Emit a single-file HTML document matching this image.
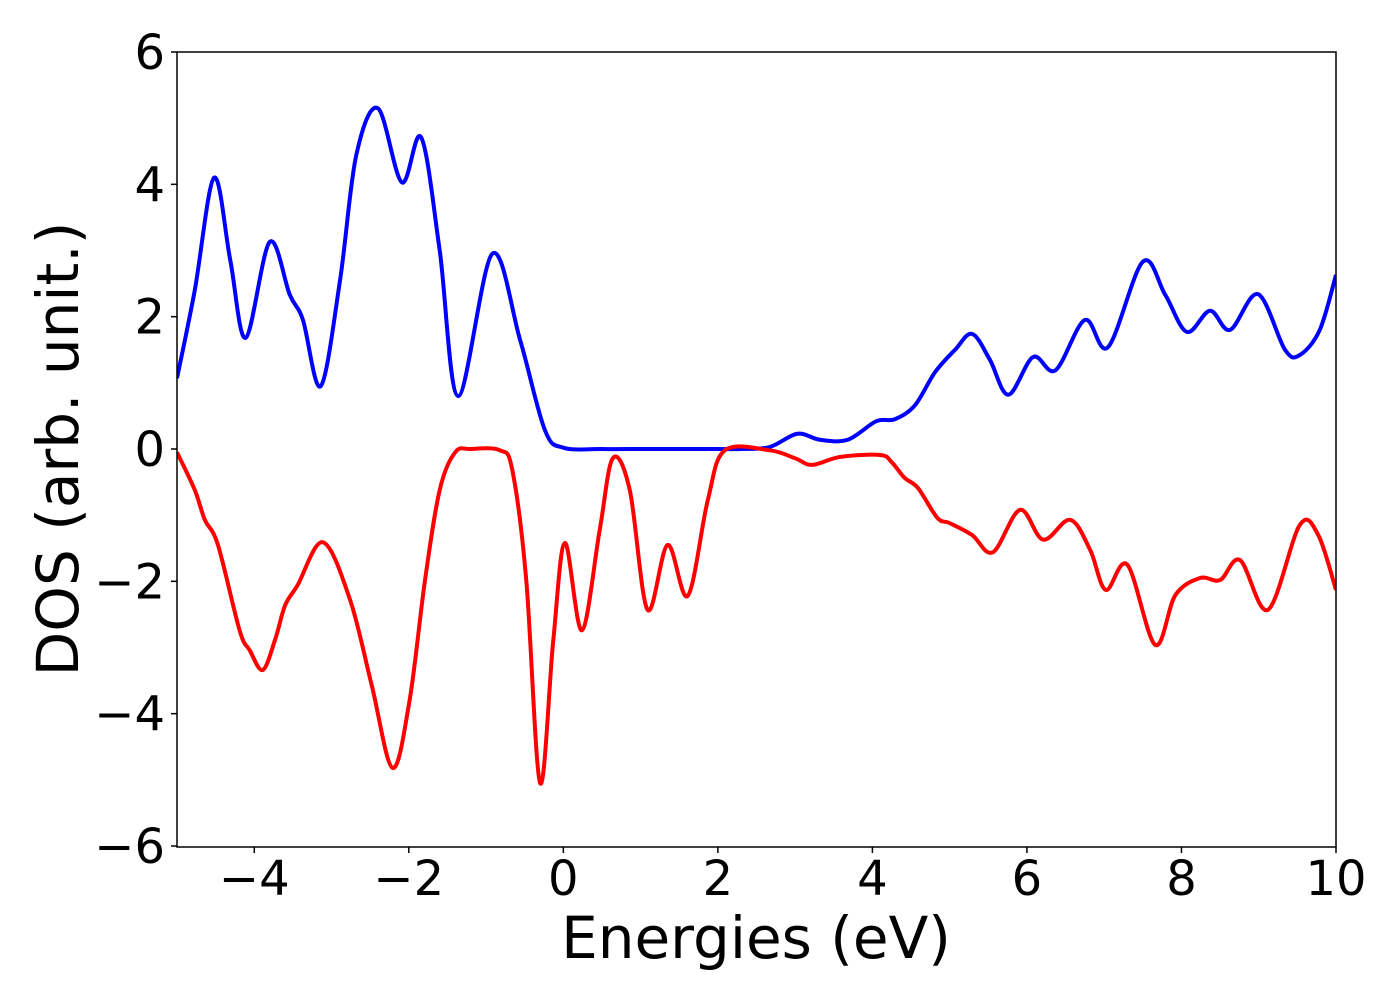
<!DOCTYPE html>
<html><head><meta charset="utf-8"><style>
body{margin:0;background:#fff}
svg{display:block}
text{font-family:"DejaVu Sans","Liberation Sans",sans-serif;fill:#000}
</style></head><body>
<svg id="chart" width="1400" height="1000">
<defs><clipPath id="clip"><rect x="177" y="52" width="1159" height="795"/></clipPath></defs>
<g id="grid"></g>
<g id="lines" clip-path="url(#clip)"></g>
<rect x="177" y="52" width="1159" height="795" fill="none" stroke="#000" stroke-width="1.5"/>
<g id="ticks"></g>
<text x="756" y="958" font-size="58" text-anchor="middle">Energies (eV)</text>
<text transform="translate(78,449) rotate(-90)" font-size="58" text-anchor="middle">DOS (arb. unit.)</text>
</svg>
<script>
const xTicks=[-4,-2,0,2,4,6,8,10];
const yTicks=[-6,-4,-2,0,2,4,6];
const upE=[-5,-4.77,-4.52,-4.31,-4.11,-3.8,-3.54,-3.37,-3.14,-2.89,-2.68,-2.4,-2.09,-1.84,-1.6,-1.36,-0.92,-0.56,-0.24,0,0.5,1,1.5,2,2.3,2.67,3.03,3.32,3.68,4.05,4.29,4.55,4.81,5.07,5.29,5.52,5.76,6.08,6.37,6.75,7.05,7.5,7.79,8.07,8.37,8.63,8.99,9.34,9.53,9.79,10];
const upV=[1.07,2.4,4.1,2.85,1.68,3.13,2.33,1.95,0.95,2.55,4.44,5.15,4.03,4.71,3.0,0.8,2.95,1.65,0.29,0.02,0,0,0,0,0,0.03,0.23,0.14,0.14,0.42,0.45,0.66,1.16,1.5,1.74,1.35,0.82,1.39,1.19,1.95,1.54,2.83,2.33,1.77,2.09,1.8,2.34,1.5,1.42,1.8,2.63];
const dnE=[-5,-4.77,-4.64,-4.47,-4.19,-4.06,-3.89,-3.73,-3.6,-3.44,-3.11,-2.76,-2.48,-2.21,-1.99,-1.79,-1.6,-1.4,-1.2,-0.82,-0.66,-0.48,-0.3,-0.13,0.02,0.24,0.47,0.64,0.86,1.09,1.35,1.61,1.87,2.09,2.67,3.0,3.22,3.58,4.1,4.25,4.42,4.59,4.84,5.0,5.29,5.56,5.91,6.21,6.56,6.82,7.02,7.3,7.66,7.92,8.24,8.5,8.76,9.12,9.53,9.77,10];
const dnV=[-0.05,-0.62,-1.07,-1.45,-2.74,-3.04,-3.34,-2.88,-2.36,-2.06,-1.41,-2.28,-3.57,-4.82,-3.8,-1.98,-0.62,-0.05,0,-0.02,-0.32,-1.98,-5.05,-2.89,-1.42,-2.74,-1.23,-0.14,-0.62,-2.43,-1.45,-2.22,-0.77,-0.02,-0.02,-0.14,-0.24,-0.12,-0.09,-0.2,-0.44,-0.59,-1.04,-1.12,-1.3,-1.56,-0.92,-1.37,-1.07,-1.53,-2.13,-1.75,-2.96,-2.21,-1.95,-1.98,-1.68,-2.43,-1.15,-1.3,-2.13];
const X=e=>177+(e+5)*1159/15;
const Y=v=>449-v*794/12;
const NS='http://www.w3.org/2000/svg';
function path(E,V){
  const p=E.map((e,i)=>[X(e),Y(V[i])]);
  let d='M'+p[0][0]+','+p[0][1];
  for(let i=0;i<p.length-1;i++){
    const p0=p[Math.max(0,i-1)],p1=p[i],p2=p[i+1],p3=p[Math.min(p.length-1,i+2)];
    const c1=[p1[0]+(p2[0]-p0[0])/6,p1[1]+(p2[1]-p0[1])/6];
    const c2=[p2[0]-(p3[0]-p1[0])/6,p2[1]-(p3[1]-p1[1])/6];
    d+=` C${c1[0]},${c1[1]} ${c2[0]},${c2[1]} ${p2[0]},${p2[1]}`;
  }
  return d;
}
const lines=document.getElementById('lines');
const up=document.createElementNS(NS,'path');
up.setAttribute('d',path(upE,upV));up.setAttribute('fill','none');up.setAttribute('stroke','#0000ff');up.setAttribute('stroke-width','4');


lines.appendChild(up);
const dn=document.createElementNS(NS,'path');
dn.setAttribute('d',path(dnE,dnV));dn.setAttribute('fill','none');dn.setAttribute('stroke','#ff0000');dn.setAttribute('stroke-width','4');


lines.appendChild(dn);
const ticks=document.getElementById('ticks');
const lab=v=>v<0?'\u2212'+(-v):''+v;
xTicks.forEach(t=>{
  const l=document.createElementNS(NS,'line');
  l.setAttribute('x1',X(t));l.setAttribute('x2',X(t));l.setAttribute('y1',847);l.setAttribute('y2',853);l.setAttribute('stroke','#000');l.setAttribute('stroke-width','1.5');
  
  
  ticks.appendChild(l);
  const tx=document.createElementNS(NS,'text');
  tx.setAttribute('x',X(t));tx.setAttribute('y',895);tx.setAttribute('font-size','48');tx.setAttribute('text-anchor','middle');
  tx.textContent=lab(t);
  
  
  ticks.appendChild(tx);
});
yTicks.forEach(t=>{
  const l=document.createElementNS(NS,'line');
  l.setAttribute('x1',171);l.setAttribute('x2',177);l.setAttribute('y1',Y(t));l.setAttribute('y2',Y(t));l.setAttribute('stroke','#000');l.setAttribute('stroke-width','1.5');
  
  
  ticks.appendChild(l);
  const tx=document.createElementNS(NS,'text');
  tx.setAttribute('x',165);tx.setAttribute('y',Y(t)+17);tx.setAttribute('font-size','48');tx.setAttribute('text-anchor','end');
  tx.textContent=lab(t);
  
  
  ticks.appendChild(tx);
});
</script>
</body></html>
